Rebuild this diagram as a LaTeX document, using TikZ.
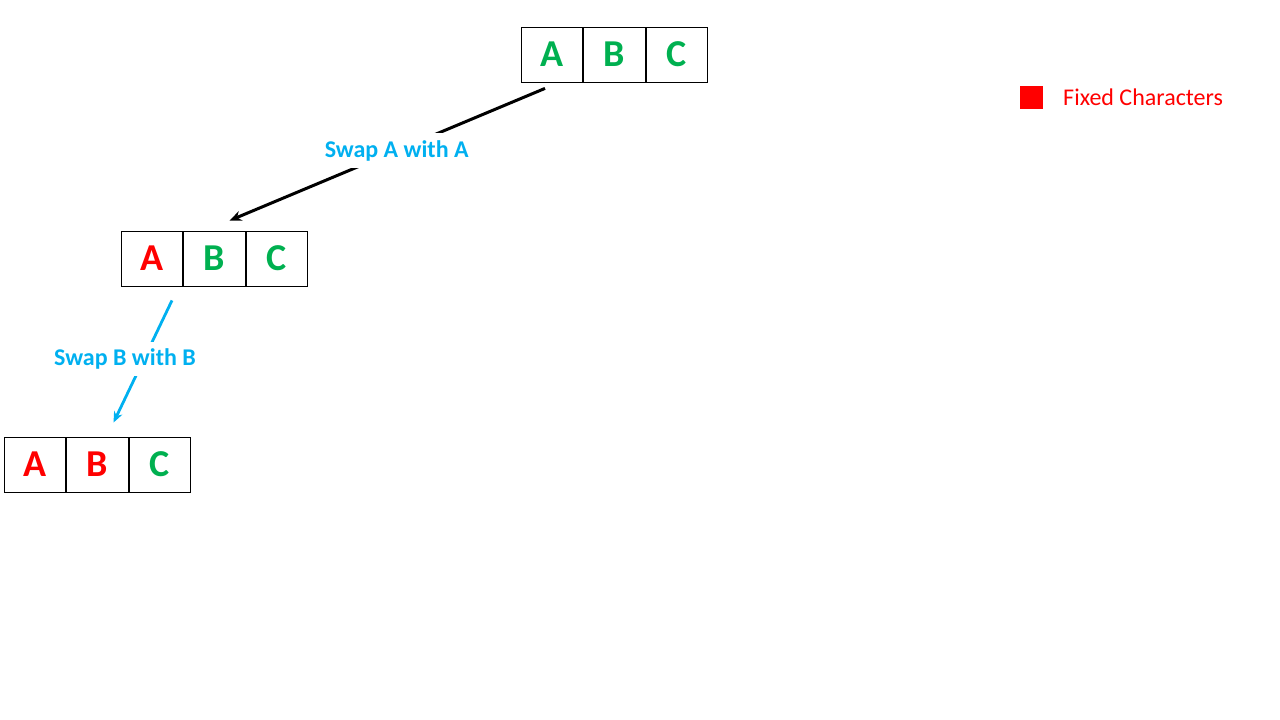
\documentclass[tikz,border=0pt]{standalone}
\usepackage{fontspec}
\setmainfont{Carlito}
\usepackage{tikz}
\usetikzlibrary{positioning,arrows.meta,calc}
\definecolor{keep}{RGB}{0,176,80}
\definecolor{fixd}{RGB}{255,0,0}
\definecolor{swapblue}{RGB}{0,176,240}

\begin{document}
\begin{tikzpicture}[x=1pt, y=-1pt,
    cell/.style={draw, line width=0.8pt, minimum width=61.7pt, minimum height=55pt, inner sep=0pt,
      font=\fontsize{38}{40}\selectfont\bfseries},
    free/.style={cell, text=keep},
    fixed/.style={cell, text=fixd},
    swaplbl/.style={fill=white, inner sep=8pt, text=swapblue, font=\fontsize{24}{28}\selectfont\bfseries},
    node distance=0pt]

      \useasboundingbox (0,0) rectangle (1280,720);

      % starting string
      \node [free] at (552, 54.5) (t1) {A};
      \node [free, right=of t1] (t2) {B};
      \node [free, right=of t2] (t3) {C};

      % after first swap
      \node [fixed] at (152, 258.5) (m1) {A};
      \node [free, right=of m1] (m2) {B};
      \node [free, right=of m2] (m3) {C};

      % after second swap
      \node [fixed] at (35, 464.5) (b1) {A};
      \node [fixed, right=of b1] (b2) {B};
      \node [free, right=of b2] (b3) {C};

      \draw [line width=3pt, -{Stealth[length=12pt, width=10pt]}]
        ($(t1.south)+(-7,6)$) -- ($(m2.north)+(15,-10)$)
        node [swaplbl, pos=0.47, inner ysep=7pt] (lbl1) {Swap A with A};

      \draw [draw=swapblue, line width=2.8pt, -{Stealth[length=11pt, width=9pt]}]
        ($(m1.south)+(20,14)$) -- ($(b2.north)+(16,-14)$);
      \node [swaplbl, inner ysep=7pt] at (125, 359) (lbl2) {Swap B with B};

      % legend
      \node [fill=fixd, minimum size=23pt, inner sep=0pt] at (1031, 97) (key) {};
      \node [right=17pt of key, text=fixd, font=\fontsize{24}{28}\selectfont] (keytxt) {Fixed Characters};
    \end{tikzpicture}
\end{document}
